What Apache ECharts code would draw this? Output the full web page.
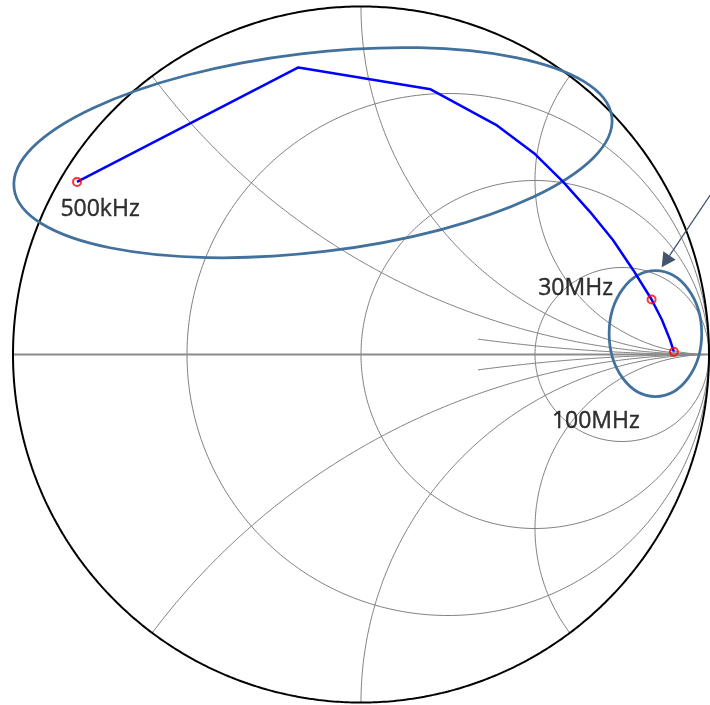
<!DOCTYPE html>
<html>
<head>
<meta charset="utf-8">
<script src="https://cdn.jsdelivr.net/npm/echarts@6/dist/echarts.min.js"></script>
<style>
  html, body { margin: 0; padding: 0; background: #ffffff; }
  #chart { width: 710px; height: 705px; }
</style>
</head>
<body>
<div id="chart"></div>
<script>
// Measured reflection coefficient Γ along the frequency sweep
const gammaRe = [-0.816, -0.180, 0.200, 0.388, 0.500, 0.581, 0.658, 0.724, 0.782, 0.835, 0.865, 0.888, 0.899];
const gammaIm = [0.496, 0.825, 0.762, 0.660, 0.576, 0.496, 0.410, 0.329, 0.243, 0.158, 0.099, 0.042, 0.008];

// Sweep points that carry a frequency tag
const markerIndex = [0, 9, 12];
const markerLabel = ['500kHz', '30MHz', '100MHz'];

// Smith grid: normalized resistance circles and reactance arcs
const resistanceCircles = [1 / 3, 1, 3];
const reactanceArcs = [0.5, 1, 2, -0.5, -1, -2];
// Fine reactance arcs, drawn only from r = 2 outwards
const fineReactanceArcs = [0.2, -0.2];
const fineArcStartR = 2;

// Highlight ellipses in Γ units: [centerRe, centerIm, semiAxisRe, semiAxisIm, tiltDeg]
const highlightEllipses = [
  [-0.138, 0.580, 0.865, 0.286, 6.8],
  [0.846, 0.060, 0.133, 0.181, 0]
];
// Pointer arrow in Γ units: [fromRe, fromIm, toRe, toIm]
const pointerArrow = [[1.017, 0.478, 0.864, 0.251]];

// ---- grid geometry ----
function circlePoints(cx, cy, rad, n) {
  const pts = [];
  for (let i = 0; i <= n; i++) {
    const t = (i / n) * 2 * Math.PI;
    pts.push([cx + rad * Math.cos(t), cy + rad * Math.sin(t)]);
  }
  return pts;
}
// Constant-reactance arc: map z = r + jx to Γ for r from r0 to ∞
function reactancePoints(x, r0, n) {
  const pts = [];
  for (let i = 0; i <= n; i++) {
    if (i === n) { pts.push([1, 0]); break; }
    const r = r0 + Math.tan((i / n) * (Math.PI / 2));
    const den = (r + 1) * (r + 1) + x * x;
    pts.push([(r * r - 1 + x * x) / den, (2 * x) / den]);
  }
  return pts;
}

const gridStyle = { color: '#808080', width: 1 };
const series = [];

resistanceCircles.forEach(function (r) {
  series.push({
    type: 'line', data: circlePoints(r / (1 + r), 0, 1 / (1 + r), 360),
    showSymbol: false, silent: true, clip: false, lineStyle: gridStyle, z: 1
  });
});
reactanceArcs.forEach(function (x) {
  series.push({
    type: 'line', data: reactancePoints(x, 0, 600),
    showSymbol: false, silent: true, clip: false, lineStyle: gridStyle, z: 1
  });
});
fineReactanceArcs.forEach(function (x) {
  series.push({
    type: 'line', data: reactancePoints(x, fineArcStartR, 400),
    showSymbol: false, silent: true, clip: false, lineStyle: gridStyle, z: 1
  });
});
// Real axis
series.push({
  type: 'line', data: [[-1, 0], [1.01, 0]],
  showSymbol: false, silent: true, clip: false,
  lineStyle: { color: '#8c8c8c', width: 2 }, z: 1
});
// Unit circle |Γ| = 1
series.push({
  type: 'line', data: circlePoints(0, 0, 1, 720),
  showSymbol: false, silent: true, clip: false,
  lineStyle: { color: '#000000', width: 2 }, z: 2
});

// Highlight ellipses
series.push({
  type: 'custom', data: highlightEllipses, clip: false, silent: true, z: 3,
  renderItem: function (params, api) {
    const c = api.coord([api.value(0), api.value(1)]);
    const s = api.size([api.value(2), api.value(3)]);
    return {
      type: 'ellipse', x: c[0], y: c[1],
      rotation: api.value(4) * Math.PI / 180,
      shape: { cx: 0, cy: 0, rx: s[0], ry: s[1] },
      style: { fill: 'none', stroke: '#41719c', lineWidth: 2.75 }
    };
  }
});

// Sweep trace
series.push({
  type: 'line', data: gammaRe.map(function (v, i) { return [v, gammaIm[i]]; }),
  showSymbol: false, silent: true, clip: false,
  lineStyle: { color: '#0000ff', width: 2.5 }, z: 4
});

// Frequency markers with tags
const labelOffsets = [[23, 28], [-76, -11], [-78, 70]];
series.push({
  type: 'scatter', clip: false, silent: true, z: 5,
  symbol: 'circle', symbolSize: 8,
  itemStyle: { color: 'rgba(0,0,0,0)', borderColor: '#ff0000', borderWidth: 2 },
  data: markerIndex.map(function (idx, k) {
    return {
      value: [gammaRe[idx], gammaIm[idx]],
      name: markerLabel[k],
      label: { offset: labelOffsets[k] }
    };
  }),
  label: {
    show: true, position: 'inside', formatter: '{b}',
    color: '#000000', fontFamily: 'Open Sans', fontSize: 23,
    align: 'center', verticalAlign: 'middle',
    textBorderColor: '#000000', textBorderWidth: 0.4
  }
});

// Pointer arrow
series.push({
  type: 'custom', data: pointerArrow, clip: false, silent: true, z: 6,
  renderItem: function (params, api) {
    const p1 = api.coord([api.value(0), api.value(1)]);
    const p2 = api.coord([api.value(2), api.value(3)]);
    const ang = Math.atan2(p2[1] - p1[1], p2[0] - p1[0]);
    const L = 14, W = 7.5;
    const bx = p2[0] - L * Math.cos(ang), by = p2[1] - L * Math.sin(ang);
    const nx = -Math.sin(ang), ny = Math.cos(ang);
    return {
      type: 'group',
      children: [
        { type: 'line', shape: { x1: p1[0], y1: p1[1], x2: bx, y2: by },
          style: { stroke: '#44546a', lineWidth: 1.3 } },
        { type: 'polygon',
          shape: { points: [[p2[0], p2[1]], [bx + nx * W, by + ny * W], [bx - nx * W, by - ny * W]] },
          style: { fill: '#44546a' } }
      ]
    };
  }
});

const chart = echarts.init(document.getElementById('chart'), null, { renderer: 'canvas' });
chart.setOption({
  backgroundColor: '#ffffff',
  animation: false,
  grid: { left: 13, top: 6.5, width: 696, height: 696 },
  xAxis: { type: 'value', min: -1, max: 1, show: false },
  yAxis: { type: 'value', min: -1, max: 1, show: false },
  series: series
});
</script>
</body>
</html>
